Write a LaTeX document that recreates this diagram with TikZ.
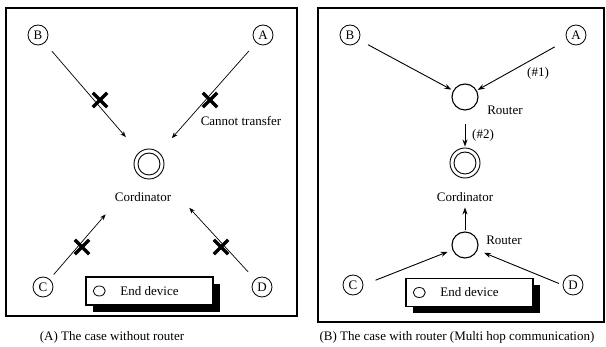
\documentclass[tikz,border=0pt]{standalone}
\usepackage{fontspec}
\setmainfont{Liberation Serif}
\usetikzlibrary{arrows.meta,shapes.misc,shapes.geometric,shadows}

\tikzset{
  dev/.style={shape=circle, draw, line width=0.8pt, minimum size=20pt, inner sep=0pt},
  hub/.style={shape=circle, draw, line width=0.9pt, minimum size=30pt, inner sep=0pt,
              path picture={\draw[line width=0.9pt] (path picture bounding box.center) circle (11pt);}},
  router/.style={shape=circle, draw, line width=1.1pt, minimum size=26pt, inner sep=0pt},
  link/.style={-{Stealth[length=6pt,width=4.5pt]}, line width=0.7pt},
  hop/.style={-{Stealth[length=7pt,width=5pt]}, line width=0.9pt},
  nogo/.style={shape=cross out, draw, line width=3.4pt, minimum size=11pt, inner sep=0pt},
  legend/.style={shape=rectangle, draw, fill=white, line width=1.4pt, minimum width=127pt, minimum height=28pt,
                 drop shadow={fill=black, opacity=1, shadow xshift=7pt, shadow yshift=-7pt}},
  dot/.style={shape=ellipse, draw, line width=0.8pt, minimum width=12pt, minimum height=10pt, inner sep=0pt},
  frame/.style={draw, line width=1.6pt},
}

\begin{document}
\begin{tikzpicture}[x=1pt, y=-1pt, font=\fontsize{13pt}{15pt}\selectfont]
  \useasboundingbox (0,0) rectangle (606,347);

  % (A) single hop: every device talks to the coordinator directly
  \draw[frame] (6,8) rectangle (297,316);
  \node[dev] (lB) at (38,35) {B};
  \node[dev] (lA) at (263,35) {A};
  \node[dev] (lC) at (43,287) {C};
  \node[dev] (lD) at (262,287) {D};
  \node[hub] (lHub) at (149,164) {};
  \node (lHubTxt) at (143,197) {Cordinator};

  \draw[link, shorten <=11pt, shorten >=20pt] (lB) -- (lHub);
  \draw[link, shorten <=11pt, shorten >=19pt] (lA) -- (lHub);
  \draw[link, shorten <=6pt, shorten >=51pt] (lC) -- (lHub);
  \draw[link, shorten <=10pt, shorten >=44pt] (lD) -- (lHub);

  \node[nogo] (xB) at (100,100) {};
  \node[nogo] (xA) at (210,100) {};
  \node[nogo] (xC) at (82,247) {};
  \node[nogo] (xD) at (221,247) {};
  \node (noTxt) at (241,121) {Cannot transfer};

  \node[legend] (legL) at (149.5,291) {End device};
  \node[dot] (legLdot) at ([xshift=14pt]legL.west) {};
  \node (capL) at (112,337) {(A) The case without router};

  % (B) multi hop: routers relay to the coordinator
  \draw[frame] (318,8) rectangle (604,322);
  \node[dev] (rB) at (350,35) {B};
  \node[dev] (rA) at (576,35) {A};
  \node[dev] (rC) at (353,285) {C};
  \node[dev] (rD) at (573,285) {D};
  \node[router] (rt1) at (465,97) {};
  \node[hub] (rHub) at (465,163) {};
  \node[router] (rt2) at (465,245) {};
  \node (rt1Txt) at (505,110) {Router};
  \node (rt2Txt) at (504,240) {Router};
  \node (rHubTxt) at (465,197) {Cordinator};

  \draw[hop, shorten <=10pt, shorten >=2pt] (rB) -- (rt1);
  \draw[hop, shorten <=14pt, shorten >=1pt] (rA) -- (rt1);
  \node (hop1) at (538,73) {(\#1)};
  \draw[hop, shorten <=13pt, shorten >=1pt] (rt1) -- (rHub);
  \node (hop2) at (483,135) {(\#2)};
  \draw[hop, shorten <=1pt, shorten >=29pt] (rt2) -- (rHub);
  \draw[hop, shorten <=13pt, shorten >=5pt] (rC.east) -- (rt2);
  \draw[hop, shorten <=4pt, shorten >=7pt] (rD.west) -- (rt2);

  \node[legend] (legR) at (469.5,292.5) {End device};
  \node[dot] (legRdot) at ([xshift=14pt]legR.west) {};
  \node (capR) at (457,337) {(B) The case with router (Multi hop communication)};
\end{tikzpicture}
\end{document}
